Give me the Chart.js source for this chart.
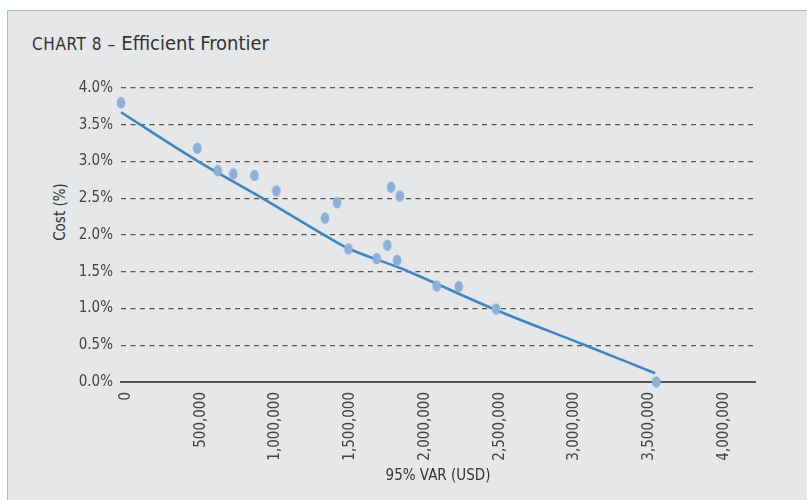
<!DOCTYPE html>
<html>
<head>
<meta charset="utf-8">
<script src="https://cdn.jsdelivr.net/npm/chart.js@4"></script>
<style>
  body { margin: 0; background: #fff; }
  #wrap { position: relative; width: 807px; height: 500px; overflow: hidden; }
  #frame {
    position: absolute; left: 7px; top: 10px; width: 820px; height: 510px;
    background: #e6e7e9; border-left: 1px solid #9dc0e4; border-top: 1px solid #9dc0e4;
  }
  #chart { position: absolute; left: 0; top: 0; }
  .txt { position: absolute; font-family: "Liberation Sans Narrow", "DejaVu Sans Condensed", sans-serif; color: #333; white-space: nowrap; }
  #title { left: 32px; top: 31px; }
  #title .a { font-size: 17px; letter-spacing: 0.6px; }
  #title .b { font-size: 20px; }
  #ytitle { left: 60px; top: 212px; font-size: 15px; transform: translate(-50%, -50%) rotate(-90deg); }
</style>
</head>
<body>
<div id="wrap">
  <div id="frame"></div>
  <div class="txt" id="title"><span class="a">CHART 8 – </span><span class="b">Efficient Frontier</span></div>
  <div class="txt" id="ytitle">Cost (%)</div>
  <canvas id="chart" width="807" height="500"></canvas>
</div>
<script>
// portfolios: 95% VaR (USD) vs cost (%)
const varUsd = [0, 510000, 647000, 751000, 892000, 1039000, 1364000, 1445000, 1521000,
                1710000, 1781000, 1806000, 1864000, 1846000, 2111000, 2258000, 2508000, 3580000];
const costPct = [3.80, 3.18, 2.875, 2.83, 2.81, 2.60, 2.23, 2.44, 1.81,
                 1.68, 1.86, 2.65, 2.53, 1.655, 1.306, 1.297, 0.993, 0.0];

// frontier curve
const frontierVar = [0, 510000, 930000, 1376000, 1518000, 1866000, 2508000, 3092000, 3572000];
const frontierCost = [3.67, 3.01, 2.52, 1.98, 1.82, 1.55, 0.98, 0.51, 0.12];

const xTicks = [0, 500000, 1000000, 1500000, 2000000, 2500000, 3000000, 3500000, 4000000];
const yTicks = [0, 0.5, 1.0, 1.5, 2.0, 2.5, 3.0, 3.5, 4.0];

const FONT = "'Liberation Sans Narrow', 'DejaVu Sans Condensed', sans-serif";

// oval marker
function makeDot() {
    const c = document.createElement("canvas");
    c.width = 10;
    c.height = 13;
    const g = c.getContext("2d");
    g.fillStyle = "#8db0da";
    g.beginPath();
    g.ellipse(5, 6.5, 4.3, 5.8, 0, 0, Math.PI * 2);
    g.fill();
    return c;
}
const dot = makeDot();

const cfg = {
    type: "scatter",
    data: {
        datasets: [
            {
                label: "Frontier",
                type: "line",
                data: frontierVar.map((x, i) => ({ x, y: frontierCost[i] })),
                borderColor: "#3f86c4",
                borderWidth: 2.6,
                pointRadius: 0,
                tension: 0.35,
                cubicInterpolationMode: "monotone",
                fill: false,
                clip: false,
                order: 2,
            },
            {
                label: "Portfolios",
                data: varUsd.map((x, i) => ({ x, y: costPct[i] })),
                pointStyle: dot,
                pointRadius: 6,
                clip: false,
                order: 1,
            },
        ],
    },
    options: {
        responsive: false,
        animation: false,
        events: [],
        layout: { padding: { left: 0, top: 88, right: 52, bottom: 0 } },
        plugins: {
            legend: { display: false },
            tooltip: { enabled: false },
        },
        scales: {
            x: {
                type: "linear",
                min: 0,
                max: 4240000,
                afterBuildTicks: (s) => { s.ticks = xTicks.map((v) => ({ value: v })); },
                afterFit: (s) => { s.height = 118; },
                grid: { display: false, drawTicks: false },
                border: { display: true, color: "#555", width: 2 },
                ticks: {
                    autoSkip: false,
                    minRotation: 90,
                    maxRotation: 90,
                    padding: 10,
                    labelOffset: 5,
                    color: "#444",
                    font: { family: FONT, size: 15 },
                    callback: (v) => v.toLocaleString("en-US"),
                },
                title: {
                    display: true,
                    text: "95% VAR (USD)",
                    color: "#333",
                    font: { family: FONT, size: 15 },
                    padding: { top: 0, bottom: 15 },
                },
            },
            y: {
                min: 0,
                max: 4,
                afterBuildTicks: (s) => { s.ticks = yTicks.map((v) => ({ value: v })); },
                afterFit: (s) => { s.width = 121; },
                grid: {
                    drawTicks: false,
                    lineWidth: 1.2,
                    color: (c) => (c.tick && c.tick.value === 0 ? "rgba(0,0,0,0)" : "#555"),
                },
                border: { display: false, dash: [5, 4.5] },
                ticks: {
                    padding: 8,
                    color: "#444",
                    font: { family: FONT, size: 15 },
                    callback: (v) => v.toFixed(1) + "%",
                },
            },
        },
    },
};

new Chart(document.getElementById("chart"), cfg);
</script>
</body>
</html>
